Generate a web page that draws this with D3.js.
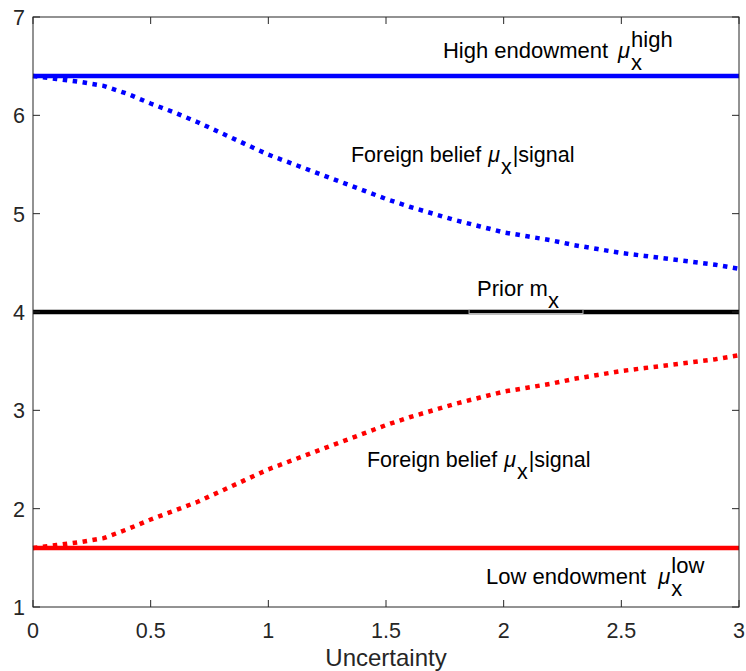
<!DOCTYPE html>
<html>
<head>
<meta charset="utf-8">
<script src="https://cdn.jsdelivr.net/npm/d3@7"></script>
<style>
  body { margin: 0; background: #fff; }
  text { font-family: "Liberation Sans", Arial, sans-serif; fill: #000; }
</style>
</head>
<body>
<div id="chart"></div>
<script>
// values
const uncertainty = [0, 0.1, 0.2, 0.3, 0.4, 0.5, 0.6, 0.7, 0.8, 0.9, 1.0,
    1.1, 1.2, 1.3, 1.4, 1.5, 1.6, 1.7, 1.8, 1.9, 2.0,
    2.1, 2.2, 2.3, 2.4, 2.5, 2.6, 2.7, 2.8, 2.9, 3.0];
const beliefHigh = [6.40, 6.37, 6.34, 6.30, 6.22, 6.12, 6.03, 5.93, 5.82, 5.71, 5.60,
    5.51, 5.42, 5.33, 5.24, 5.15, 5.07, 5.00, 4.93, 4.87, 4.81,
    4.77, 4.73, 4.68, 4.64, 4.60, 4.57, 4.54, 4.51, 4.48, 4.44];
const beliefLow = [1.60, 1.63, 1.66, 1.70, 1.79, 1.89, 1.98, 2.07, 2.18, 2.29, 2.40,
    2.49, 2.58, 2.67, 2.76, 2.85, 2.93, 3.00, 3.07, 3.13, 3.19,
    3.23, 3.27, 3.32, 3.36, 3.40, 3.43, 3.46, 3.49, 3.52, 3.56];
const highEndowment = 6.4;
const priorMean = 4;
const lowEndowment = 1.6;
const xTicks = [0, 0.5, 1, 1.5, 2, 2.5, 3];
const yTicks = [1, 2, 3, 4, 5, 6, 7];

const width = 746;
const height = 671;
const margin = { top: 17, right: 7, bottom: 64, left: 33 };

const svg = d3.select('#chart')
    .append('svg')
    .attr('width', width)
    .attr('height', height);

const xScale = d3.scaleLinear()
    .domain([0, 3])
    .range([margin.left, width - margin.right]);

const yScale = d3.scaleLinear()
    .domain([1, 7])
    .range([height - margin.bottom, margin.top]);

const flat = v => uncertainty.map(u => [u, v]);
const curve = vals => uncertainty.map((u, i) => [u, vals[i]]);

const line = d3.line()
    .x(d => xScale(d[0]))
    .y(d => yScale(d[1]));

function drawLine(points, color, dashed) {
    svg.append('path')
        .datum(points)
        .attr('fill', 'none')
        .attr('stroke', color)
        .attr('stroke-width', 4.5)
        .attr('stroke-dasharray', dashed ? '4.5 5.5' : null)
        .attr('d', line);
}

drawLine(flat(highEndowment), '#0000ff', false);
drawLine(curve(beliefHigh), '#0000ff', true);
drawLine(flat(priorMean), '#000000', false);
drawLine(curve(beliefLow), '#ff0000', true);
drawLine(flat(lowEndowment), '#ff0000', false);

// axes box with inward ticks on all sides
const x0 = xScale(0), x1 = xScale(3), y0 = yScale(1), y1 = yScale(7);
const axis = svg.append('g').attr('stroke', '#262626').attr('stroke-width', 1);
axis.append('rect')
    .attr('x', x0).attr('y', y1)
    .attr('width', x1 - x0).attr('height', y0 - y1)
    .attr('fill', 'none');

xTicks.forEach(t => {
    const x = xScale(t);
    axis.append('line').attr('x1', x).attr('x2', x).attr('y1', y0).attr('y2', y0 - 7);
    axis.append('line').attr('x1', x).attr('x2', x).attr('y1', y1).attr('y2', y1 + 7);
});
yTicks.forEach(t => {
    const y = yScale(t);
    axis.append('line').attr('x1', x0).attr('x2', x0 + 7).attr('y1', y).attr('y2', y);
    axis.append('line').attr('x1', x1).attr('x2', x1 - 7).attr('y1', y).attr('y2', y);
});

svg.append('g').selectAll('text')
    .data(xTicks)
    .enter()
    .append('text')
    .attr('x', d => xScale(d))
    .attr('y', y0 + 31)
    .attr('text-anchor', 'middle')
    .attr('font-size', 21.5)
    .style('fill', '#262626')
    .text(d => d);

svg.append('g').selectAll('text')
    .data(yTicks)
    .enter()
    .append('text')
    .attr('x', x0 - 8)
    .attr('y', d => yScale(d) + 8)
    .attr('text-anchor', 'end')
    .attr('font-size', 21.5)
    .style('fill', '#262626')
    .text(d => d);

svg.append('text')
    .attr('x', (x0 + x1) / 2)
    .attr('y', height - 5)
    .attr('text-anchor', 'middle')
    .attr('font-size', 24)
    .style('fill', '#262626')
    .text('Uncertainty');

// prior label box sitting on the black line
svg.append('rect')
    .attr('x', xScale(1.853))
    .attr('y', yScale(priorMean) - 2.5)
    .attr('width', xScale(2.337) - xScale(1.853))
    .attr('height', 4)
    .attr('fill', '#000')
    .attr('stroke', '#b4b4b4')
    .attr('stroke-width', 1);

// annotations: main text, greek letter, subscript, superscript, tail
function label(xv, yv, main, opts) {
    const t = svg.append('text')
        .attr('x', xScale(xv))
        .attr('y', yScale(yv))
        .attr('font-size', opts.size || 22);
    t.append('tspan').text(main);
    if (opts.mu) {
        t.append('tspan').attr('dx', opts.muGap).attr('font-style', 'italic').text('\u03bc');
    }
    t.append('tspan').attr('dx', opts.subGap).attr('dy', 12).text('x');
    if (opts.sup) {
        t.append('tspan').attr('dx', -11).attr('dy', -23).text(opts.sup);
    }
    if (opts.tail) {
        t.append('tspan').attr('dx', 1).attr('dy', -12).text(opts.tail);
    }
}

label(1.742, 6.583, 'High endowment', { mu: true, muGap: 10, subGap: 1, sup: 'high' });
label(1.351, 5.525, 'Foreign belief', { mu: true, muGap: 7, subGap: 1, tail: '|signal', size: 21.5 });
label(1.887, 4.163, 'Prior m', { mu: false, subGap: 0 });
label(1.419, 2.424, 'Foreign belief', { mu: true, muGap: 7, subGap: 1, tail: '|signal', size: 21.5 });
label(1.925, 1.234, 'Low endowment', { mu: true, muGap: 12, subGap: 1, sup: 'low' });
</script>
</body>
</html>
